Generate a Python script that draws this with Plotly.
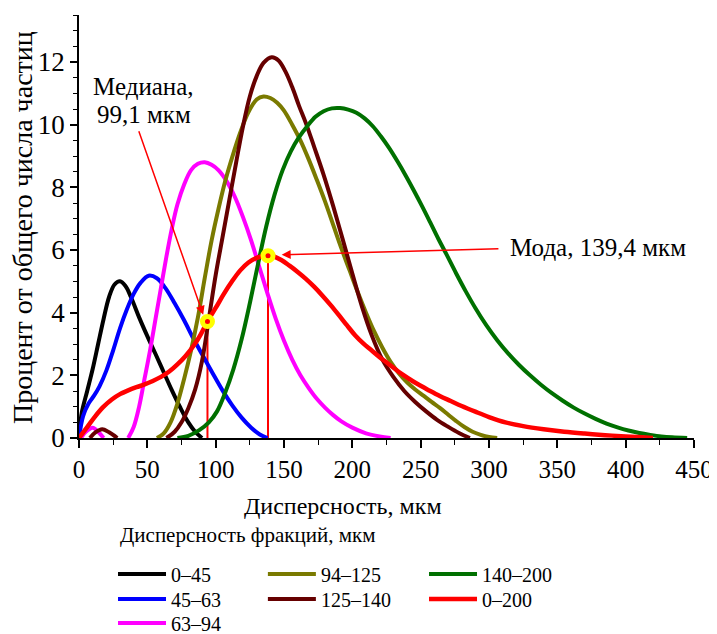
import plotly.graph_objects as go

FONT = "'Liberation Serif', 'Times New Roman', Tinos, 'DejaVu Serif', serif"

# ---- data ----
x_0_45 = [0, 2, 6, 10, 14, 18, 22, 26, 30, 34, 38, 44, 50, 56, 62, 68, 74, 80, 85, 90]
y_0_45 = [0.0, 0.8, 1.5, 2.2, 3.0, 3.8, 4.5, 4.9, 5.0, 4.85, 4.5, 3.85, 3.25, 2.68, 2.1, 1.52, 0.98, 0.5, 0.2, 0.0]

x_45_63 = [0, 3, 7, 11, 15, 20, 25, 30, 35, 40, 45, 51, 57, 63, 70, 77, 84, 91, 98, 105, 112, 119, 126, 132, 138]
y_45_63 = [0.0, 0.7, 1.1, 1.35, 1.65, 2.15, 2.8, 3.5, 4.1, 4.6, 4.95, 5.18, 5.1, 4.8, 4.3, 3.75, 3.15, 2.6, 2.05, 1.52, 1.05, 0.65, 0.33, 0.12, 0.0]

x_63_94 = [1.5, 5, 10, 14, 18, None, 36, 40, 44, 48, 52, 56, 60, 64, 68, 72, 77, 82, 87, 92, 97, 102, 108, 114, 120, 126, 132, 138, 144, 150, 156, 162, 168, 174, 180, 186, 192, 200, 210, 220, 228]
y_63_94 = [0.0, 0.2, 0.33, 0.2, 0.0, None, 0.0, 0.35, 1.0, 1.9, 2.8, 3.8, 4.8, 5.8, 6.7, 7.45, 8.1, 8.55, 8.75, 8.8, 8.72, 8.55, 8.2, 7.7, 7.05, 6.3, 5.45, 4.6, 3.8, 3.1, 2.5, 2.0, 1.6, 1.25, 0.97, 0.73, 0.53, 0.33, 0.15, 0.05, 0.0]

x_94_125 = [57, 62, 67, 72, 77, 82, 87, 92, 97, 102, 107, 112, 118, 124, 130, 135, 140, 145, 150, 156, 162, 168, 174, 180, 186, 192, 198, 204, 210, 216, 222, 228, 234, 240, 246, 252, 258, 264, 270, 276, 282, 288, 294, 300, 306]
y_94_125 = [0.0, 0.15, 0.5, 1.1, 1.9, 2.8, 3.85, 5.1, 6.3, 7.3, 8.2, 8.95, 9.75, 10.4, 10.8, 10.9, 10.85, 10.7, 10.45, 10.0, 9.5, 8.9, 8.24, 7.55, 6.8, 6.05, 5.35, 4.65, 4.0, 3.4, 2.88, 2.43, 2.07, 1.78, 1.55, 1.35, 1.15, 0.96, 0.75, 0.54, 0.35, 0.2, 0.1, 0.03, 0.0]

x_125_140 = [8, 12, 17, 22, 28, None, 64, 70, 75, 80, 85, 90, 95, 100, 105, 110, 115, 120, 125, 130, 135, 141, 146, 151, 156, 161, 166, 172, 179, 186, 193, 200, 207, 214, 222, 230, 238, 246, 254, 262, 270, 278, 286]
y_125_140 = [0.0, 0.18, 0.28, 0.18, 0.0, None, 0.0, 0.2, 0.5, 0.95, 1.55, 2.45, 3.8, 5.2, 6.4, 7.6, 8.8, 9.95, 10.9, 11.55, 11.97, 12.15, 12.05, 11.7, 11.2, 10.6, 10.05, 9.3, 8.4, 7.4, 6.33, 5.25, 4.2, 3.3, 2.5, 1.95, 1.5, 1.15, 0.85, 0.58, 0.36, 0.16, 0.0]

x_140_200 = [72, 80, 88, 95, 101, 107, 113, 119, 125, 131, 137, 143, 149, 155, 161, 167, 173, 179, 185, 191, 197, 203, 209, 215, 221, 227, 233, 239, 245, 251, 257, 263, 269, 276, 283, 290, 298, 306, 314, 322, 330, 338, 346, 354, 362, 370, 378, 386, 394, 402, 410, 418, 426, 434, 445]
y_140_200 = [0.0, 0.07, 0.25, 0.5, 0.85, 1.45, 2.2, 3.15, 4.3, 5.55, 6.75, 7.75, 8.55, 9.15, 9.6, 9.95, 10.25, 10.43, 10.52, 10.53, 10.48, 10.38, 10.2, 9.95, 9.62, 9.25, 8.83, 8.38, 7.9, 7.4, 6.88, 6.35, 5.85, 5.25, 4.68, 4.15, 3.6, 3.12, 2.7, 2.33, 2.0, 1.7, 1.43, 1.19, 0.97, 0.78, 0.61, 0.46, 0.34, 0.24, 0.16, 0.1, 0.05, 0.02, 0.0]

x_0_200 = [0, 6, 12, 18, 24, 30, 36, 42, 48, 54, 60, 66, 72, 78, 84, 89, 94, 100, 106, 112, 118, 124, 130, 136, 142, 148, 154, 160, 166, 172, 178, 184, 190, 196, 202, 208, 214, 220, 226, 232, 238, 244, 250, 257, 264, 272, 280, 290, 300, 312, 325, 340, 355, 370, 385, 400, 412, 420]
y_0_200 = [0.0, 0.35, 0.7, 1.0, 1.23, 1.4, 1.52, 1.62, 1.71, 1.82, 1.95, 2.12, 2.35, 2.62, 2.95, 3.3, 3.72, 4.15, 4.6, 5.0, 5.35, 5.6, 5.75, 5.82, 5.8, 5.68, 5.5, 5.3, 5.08, 4.83, 4.55, 4.25, 3.93, 3.6, 3.28, 3.02, 2.8, 2.58, 2.38, 2.18, 1.99, 1.82, 1.67, 1.5, 1.34, 1.18, 1.02, 0.84, 0.67, 0.5, 0.38, 0.28, 0.2, 0.14, 0.09, 0.05, 0.02, 0.0]

# name, x, y, colour, legend column, legend row
series = [
    ("0–45", x_0_45, y_0_45, "#000000", 0, 0),
    ("45–63", x_45_63, y_45_63, "#0000ff", 0, 1),
    ("63–94", x_63_94, y_63_94, "#ff00ff", 0, 2),
    ("94–125", x_94_125, y_94_125, "#7a7a00", 1, 0),
    ("125–140", x_125_140, y_125_140, "#660000", 1, 1),
    ("140–200", x_140_200, y_140_200, "#007000", 2, 0),
    ("0–200", x_0_200, y_0_200, "#ff0000", 2, 1),
]

# median and mode markers (position as drawn)
stat_x = [94, 138.3]
stat_y = [3.72, 5.82]
median_lines = ["Медиана,", "99,1 мкм"]
mode_label = "Мода, 139,4 мкм"

# legend layout (paper coords)
leg_col_x = [0.0553, 0.299, 0.561]
leg_row_y = [-0.3215, -0.3806, -0.4373]

fig = go.Figure()

for sx, sy in zip(stat_x, stat_y):
    fig.add_trace(go.Scatter(x=[sx, sx], y=[0, sy], mode="lines",
                             line=dict(color="#ff0000", width=2), showlegend=False, hoverinfo="skip"))

legends = {}
for i, (name, xs, ys, col, c, r) in enumerate(series):
    lid = "legend" if i == 0 else f"legend{i + 1}"
    fig.add_trace(go.Scatter(x=xs, y=ys, name=name, mode="lines",
                             line=dict(color=col, width=4.5 if name == "0–200" else 4, shape="spline", smoothing=1),
                             connectgaps=False, legend=lid))
    legends[lid] = dict(x=leg_col_x[c], y=leg_row_y[r], orientation="v", xanchor="left", yanchor="middle",
                        bgcolor="rgba(0,0,0,0)", font=dict(family=FONT, size=20, color="black"),
                        itemwidth=48)

fig.add_trace(go.Scatter(x=stat_x, y=stat_y, mode="markers",
                         marker=dict(size=10, color="#ff0000", line=dict(color="#ffff00", width=5)),
                         showlegend=False, hoverinfo="skip"))

ann_font = dict(family=FONT, size=25, color="black")
annotations = [
    dict(x=47.5, y=11.21, xref="x", yref="y", text=median_lines[0], showarrow=False,
         font=ann_font, xanchor="center", yanchor="middle"),
    dict(x=47.5, y=10.32, xref="x", yref="y", text=median_lines[1], showarrow=False,
         font=ann_font, xanchor="center", yanchor="middle"),
    dict(x=90.9, y=3.93, ax=43.4, ay=9.84, xref="x", yref="y", axref="x", ayref="y", text="",
         showarrow=True, arrowhead=2, arrowsize=1.2, arrowwidth=1.5, arrowcolor="#ff0000"),
    dict(x=313.8, y=6.07, xref="x", yref="y", text=mode_label, showarrow=False,
         font=ann_font, xanchor="left", yanchor="middle"),
    dict(x=148.3, y=5.85, ax=308, ay=6.04, xref="x", yref="y", axref="x", ayref="y", text="",
         showarrow=True, arrowhead=2, arrowsize=1.2, arrowwidth=1.5, arrowcolor="#ff0000"),
    dict(x=0.4293, y=-0.1608, xref="paper", yref="paper", text="Дисперсность, мкм", showarrow=False,
         font=dict(family=FONT, size=24, color="black"), xanchor="center", yanchor="middle"),
    dict(x=-0.091, y=0.4965, xref="paper", yref="paper", text="Процент от общего числа частиц", showarrow=False,
         textangle=-90, font=dict(family=FONT, size=28, color="black"), xanchor="center", yanchor="middle"),
    dict(x=0.0634, y=-0.2293, xref="paper", yref="paper", text="Дисперсность фракций, мкм", showarrow=False,
         font=dict(family=FONT, size=21, color="black"), xanchor="left", yanchor="middle"),
]

# the page body adds an 8px offset, so the figure is 8px smaller than the window
fig.update_layout(
    width=709, height=626,
    margin=dict(l=71, r=23, t=7, b=196, autoexpand=False),
    paper_bgcolor="white", plot_bgcolor="white",
    font=dict(family=FONT, color="black"),
    annotations=annotations,
    xaxis=dict(range=[0, 450], showgrid=False, zeroline=False, showline=True, linecolor="black", linewidth=1.5,
               ticks="outside", ticklen=8, tickwidth=1.5, tickcolor="black", dtick=50, tick0=0, automargin=False,
               tickfont=dict(family=FONT, size=25, color="black"),
               minor=dict(dtick=25, ticks="outside", ticklen=5, tickwidth=1.2, tickcolor="black")),
    yaxis=dict(range=[0, 13.5], showgrid=False, zeroline=False, showline=True, linecolor="black", linewidth=1.5,
               ticks="outside", ticklen=7, tickwidth=1.5, tickcolor="black", dtick=2, tick0=0, automargin=False,
               tickfont=dict(family=FONT, size=27, color="black"),
               minor=dict(dtick=0.5, ticks="outside", ticklen=4, tickwidth=1.2, tickcolor="black")),
    **legends,
)

fig.write_html("out.html")
